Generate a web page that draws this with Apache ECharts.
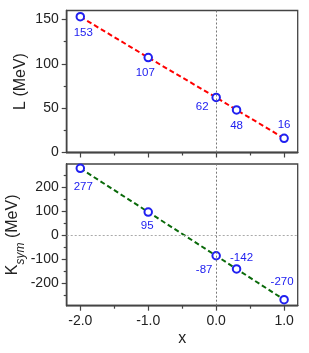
<!DOCTYPE html>
<html><head><meta charset="utf-8">
<script src="https://cdn.jsdelivr.net/npm/echarts@6/dist/echarts.min.js"></script>
<style>html,body{margin:0;padding:0;background:#fff}#c{width:309px;height:353px}</style>
</head><body><div id="c"></div>
<script>
const xValues = [-2.0, -1.0, 0.0, 0.3, 1.0];
const lValues = [153, 107, 62, 48, 16];
const kValues = [277, 95, -87, -142, -270];
const xMajorTicks = [-2, -1, 0, 1];
const xMinorTicks = [-1.5, -0.5, 0.5];
const lMajorTicks = [0, 50, 100, 150];
const lMinorTicks = [25, 75, 125];
const kMajorTicks = [-200, -100, 0, 100, 200];
const kMinorTicks = [-250, -150, -50, 50, 150, 250];

// label offsets (style only)
const lLabelOffsets = [[3,16],[-3,15],[-14,9],[0,16],[0,-13]];
const kLabelOffsets = [[3,19],[-1,14],[-12,14],[5,-11],[-2,-18]];

const FONT = "'Liberation Sans', Arial, sans-serif";
const AX = '#444';
const BLUE = '#2020f0';

function xAxisDef(grid, ticks, len, labels, extra) {
  return Object.assign({
    type: 'value', gridIndex: grid, min: -2.2, max: 1.2, position: 'bottom',
    nameMoveOverlap: false,
    axisLine: { show: true, onZero: false, lineStyle: { color: AX, width: 1.3 } },
    axisTick: { show: true, inside: false, customValues: ticks, length: len, lineStyle: { color: AX, width: 1.2 } },
    axisLabel: labels ? { show: true, customValues: ticks, formatter: v => Number(v).toFixed(1), color: '#222', fontSize: 14, fontFamily: FONT, margin: 8 } : { show: false },
    splitLine: { show: false }
  }, extra || {});
}
function yAxisDef(grid, min, max, ticks, len, labels, extra) {
  return Object.assign({
    type: 'value', gridIndex: grid, min: min, max: max, position: 'left',
    nameMoveOverlap: false,
    axisLine: { show: true, onZero: false, lineStyle: { color: AX, width: 1.3 } },
    axisTick: { show: true, inside: false, customValues: ticks, length: len, lineStyle: { color: AX, width: 1.2 } },
    axisLabel: labels ? { show: true, customValues: ticks, color: '#222', fontSize: 14, fontFamily: FONT, margin: 8 } : { show: false },
    splitLine: { show: false }
  }, extra || {});
}

function pts(ys, offs) {
  return xValues.map((x, i) => ({
    value: [x, ys[i]],
    label: { offset: offs[i] }
  }));
}

const seriesCommon = {
  type: 'line',
  symbol: 'emptyCircle', symbolSize: 7.5, showAllSymbol: true,
  itemStyle: { color: BLUE, borderColor: BLUE, borderWidth: 1 },
  label: { show: true, position: 'inside', formatter: p => String(p.value[1]), color: BLUE, fontSize: 11.5, fontFamily: FONT },
  emphasis: { disabled: true },
  animation: false
};

const option = {
  animation: false,
  grid: [
    { left: 66.7, right: 11.3, top: 10.5, height: 142, show: true, borderColor: AX, borderWidth: 1.3, backgroundColor: 'transparent', outerBoundsMode: 'none', containLabel: false },
    { left: 66.7, right: 11.3, top: 164, height: 141.7, show: true, borderColor: AX, borderWidth: 1.3, backgroundColor: 'transparent', outerBoundsMode: 'none', containLabel: false }
  ],
  xAxis: [
    xAxisDef(0, xMajorTicks, 5, false),
    xAxisDef(0, xMinorTicks, 3, false),
    xAxisDef(1, xMajorTicks, 5, true, {
      name: 'x', nameLocation: 'middle', nameGap: 25,
      nameTextStyle: { fontSize: 16, fontFamily: FONT, color: '#222' }
    }),
    xAxisDef(1, xMinorTicks, 3, false)
  ],
  yAxis: [
    yAxisDef(0, 0, 160, lMajorTicks, 5, true, {
      name: 'L (MeV)', nameLocation: 'middle', nameGap: 38, nameRotate: 90,
      nameTextStyle: { fontSize: 16, fontFamily: FONT, color: '#222' }
    }),
    yAxisDef(0, 0, 160, lMinorTicks, 3, false),
    yAxisDef(1, -295, 295, kMajorTicks, 5, true, {
      name: '{a|K}{b|sym}{a| (MeV)}', nameLocation: 'middle', nameGap: 42, nameRotate: 90,
      nameTextStyle: {
        color: '#222', fontFamily: FONT,
        rich: {
          a: { fontSize: 16, fontFamily: FONT, color: '#222', lineHeight: 20, verticalAlign: 'top' },
          b: { fontSize: 12, fontStyle: 'italic', fontFamily: FONT, color: '#222', lineHeight: 12, padding: [10, 0, 0, 0], verticalAlign: 'top' }
        }
      }
    }),
    yAxisDef(1, -295, 295, kMinorTicks, 3, false)
  ],
  series: [
    Object.assign({}, seriesCommon, {
      xAxisIndex: 0, yAxisIndex: 0,
      data: pts(lValues, lLabelOffsets),
      lineStyle: { color: '#ff0000', width: 2, type: [5, 3] },
      markLine: {
        silent: true, symbol: 'none', label: { show: false }, animation: false,
        lineStyle: { color: '#777', width: 1, type: [2, 2] },
        data: [{ xAxis: 0 }]
      }
    }),
    Object.assign({}, seriesCommon, {
      xAxisIndex: 2, yAxisIndex: 2,
      data: pts(kValues, kLabelOffsets),
      lineStyle: { color: '#0a6a0a', width: 2, type: [5, 3] },
      markLine: {
        silent: true, symbol: 'none', label: { show: false }, animation: false,
        lineStyle: { color: '#777', width: 1, type: [2, 2] },
        data: [
          { xAxis: 0 },
          { yAxis: 0, lineStyle: { color: '#aaa', width: 1.2, type: [2, 2] } }
        ]
      }
    })
  ]
};

const chart = echarts.init(document.getElementById('c'), null, { renderer: 'canvas' });
chart.setOption(option);
</script>
</body></html>
